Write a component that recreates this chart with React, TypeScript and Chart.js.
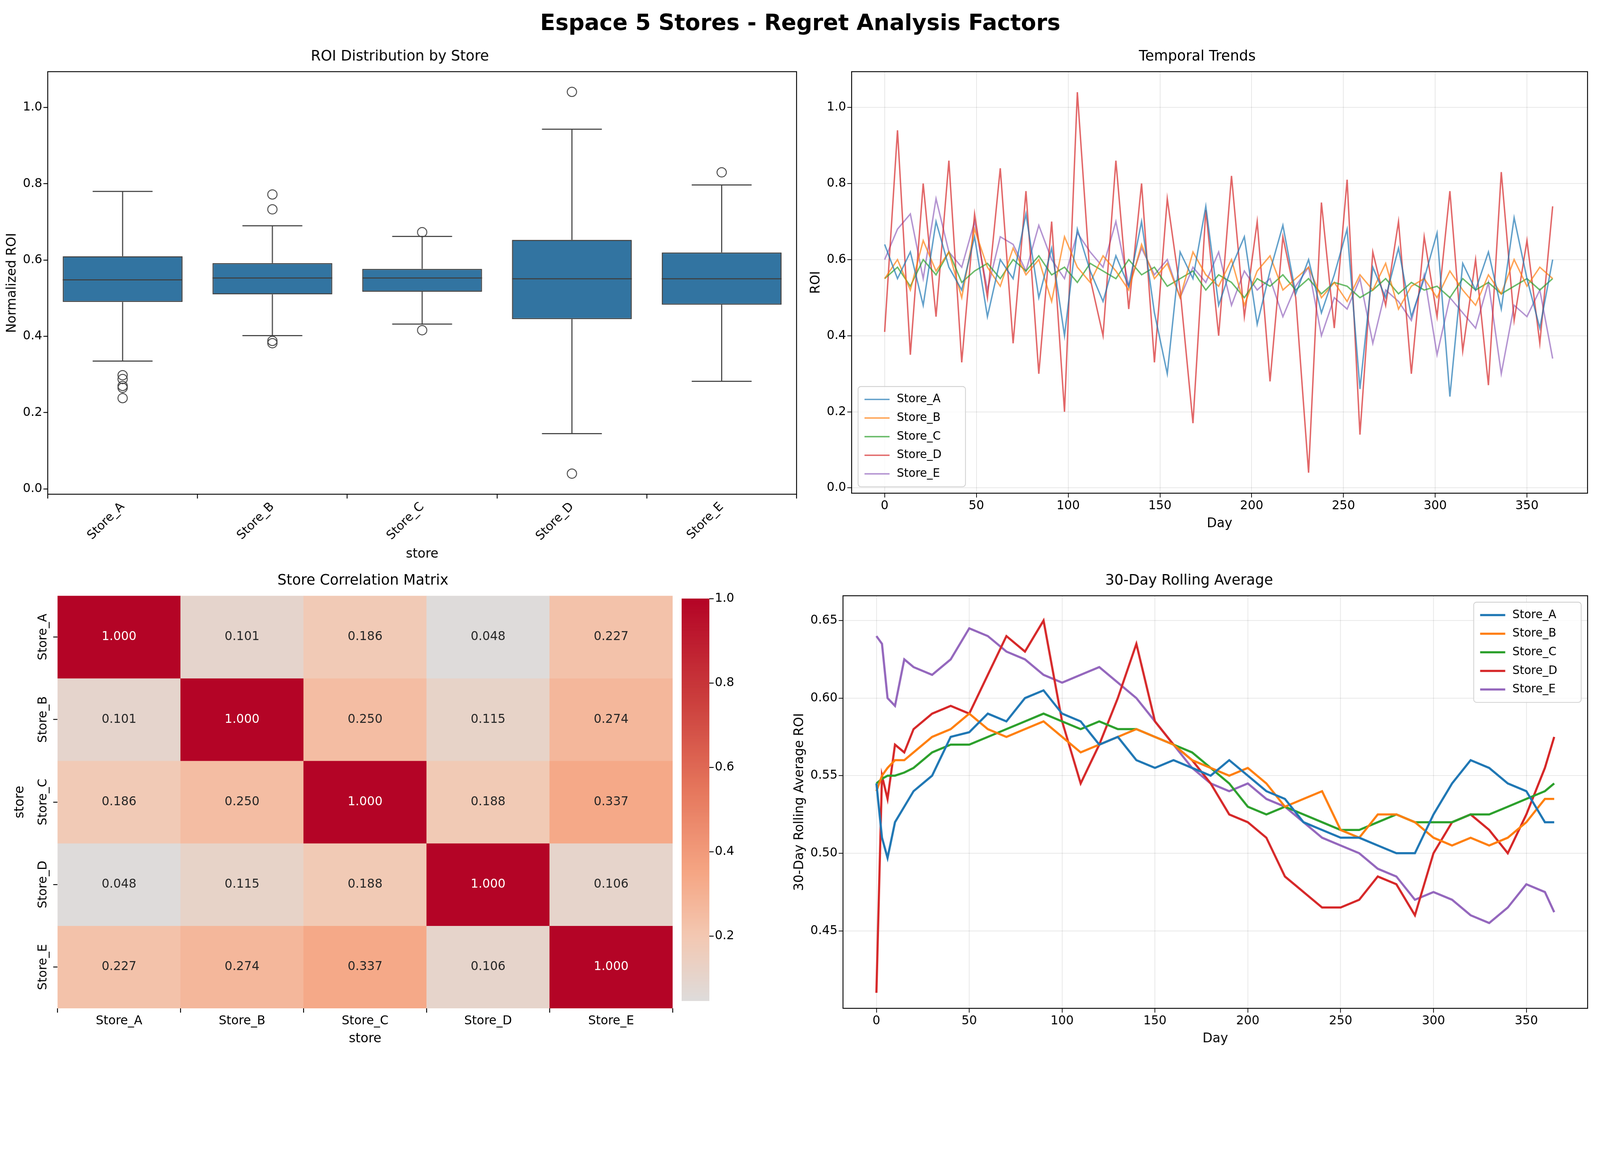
import React, { useEffect, useRef } from 'react';
import { Chart, registerables } from 'chart.js';

Chart.register(...registerables);

// the layout is measured at 4469 px wide; scale it to the real viewport
const K = (typeof window !== 'undefined' ? window.innerWidth : 4469) / 4469;
const S = (n: number) => n * K;

Chart.defaults.font.family = 'DejaVu Sans';
Chart.defaults.font.size = S(34);
Chart.defaults.color = '#000';

const stores = ['Store_A', 'Store_B', 'Store_C', 'Store_D', 'Store_E'];
const colors = ['#1f77b4', '#ff7f0e', '#2ca02c', '#d62728', '#9467bd'];
const colorsAlpha = ['rgba(31,119,180,0.7)', 'rgba(255,127,14,0.7)', 'rgba(44,160,44,0.7)', 'rgba(214,39,40,0.7)', 'rgba(148,103,189,0.7)'];

// box plot stats
const q1 = [0.49, 0.51, 0.517, 0.445, 0.483];
const medians = [0.548, 0.553, 0.553, 0.551, 0.551];
const q3 = [0.61, 0.592, 0.577, 0.653, 0.62];
const whiskLow = [0.335, 0.402, 0.432, 0.145, 0.282];
const whiskHigh = [0.78, 0.69, 0.662, 0.943, 0.797];
const outliers = [
  [0.298, 0.288, 0.27, 0.265, 0.238],
  [0.772, 0.733, 0.388, 0.382],
  [0.673, 0.416],
  [1.041, 0.04],
  [0.83],
];

// temporal (sampled every 7 days)
const tempDays = Array.from({ length: 53 }, (_, i) => i * 7);
const tempA = [.64,.55,.62,.48,.70,.58,.52,.66,.45,.60,.55,.72,.50,.63,.40,.68,.57,.49,.61,.53,.70,.46,.30,.62,.55,.74,.48,.58,.66,.43,.57,.69,.51,.60,.46,.56,.68,.26,.58,.50,.63,.45,.55,.67,.24,.59,.52,.62,.47,.71,.55,.42,.60];
const tempB = [.55,.60,.52,.65,.57,.62,.50,.68,.58,.53,.63,.56,.60,.49,.66,.58,.54,.61,.57,.52,.64,.55,.59,.50,.62,.56,.53,.60,.48,.57,.61,.52,.55,.58,.50,.54,.49,.56,.52,.59,.47,.53,.55,.50,.57,.52,.48,.56,.51,.60,.53,.58,.55];
const tempC = [.55,.58,.53,.60,.56,.62,.54,.57,.59,.55,.60,.57,.61,.56,.58,.54,.59,.57,.55,.60,.56,.58,.53,.55,.57,.52,.56,.54,.50,.55,.53,.56,.52,.55,.51,.54,.53,.50,.52,.55,.51,.54,.52,.53,.50,.55,.52,.54,.51,.53,.55,.52,.55];
const tempD = [.41,.94,.35,.80,.45,.86,.33,.72,.50,.84,.38,.78,.30,.70,.20,1.04,.55,.40,.86,.47,.80,.33,.76,.52,.17,.73,.40,.82,.45,.70,.28,.66,.50,.04,.75,.42,.81,.14,.62,.48,.70,.30,.66,.45,.78,.36,.60,.27,.83,.44,.65,.38,.74];
const tempE = [.60,.68,.72,.55,.76,.62,.58,.70,.52,.66,.64,.57,.69,.60,.55,.67,.62,.58,.70,.53,.63,.56,.60,.50,.58,.54,.62,.48,.57,.52,.55,.45,.53,.58,.40,.50,.47,.55,.38,.52,.49,.44,.56,.35,.50,.46,.42,.54,.30,.48,.45,.52,.34];

// rolling average
const rollDays = [0, 3, 6, 10, 15, 20, 30, 40, 50, 60, 70, 80, 90, 100, 110, 120, 130, 140, 150, 160, 170, 180, 190, 200, 210, 220, 230, 240, 250, 260, 270, 280, 290, 300, 310, 320, 330, 340, 350, 360, 365];
const rollA = [.545,.51,.497,.52,.53,.54,.55,.575,.578,.59,.585,.6,.605,.59,.585,.57,.575,.56,.555,.56,.555,.55,.56,.55,.54,.535,.52,.515,.51,.51,.505,.5,.5,.525,.545,.56,.555,.545,.54,.52,.52];
const rollB = [.54,.55,.555,.56,.56,.565,.575,.58,.59,.58,.575,.58,.585,.575,.565,.57,.575,.58,.575,.57,.56,.555,.55,.555,.545,.53,.535,.54,.515,.51,.525,.525,.52,.51,.505,.51,.505,.51,.52,.535,.535];
const rollC = [.545,.548,.55,.55,.552,.555,.565,.57,.57,.575,.58,.585,.59,.585,.58,.585,.58,.58,.575,.57,.565,.555,.545,.53,.525,.53,.525,.52,.515,.515,.52,.525,.52,.52,.52,.525,.525,.53,.535,.54,.545];
const rollD = [.41,.55,.535,.57,.565,.58,.59,.595,.59,.615,.64,.63,.65,.585,.545,.57,.6,.635,.585,.57,.56,.545,.525,.52,.51,.485,.475,.465,.465,.47,.485,.48,.46,.5,.52,.525,.515,.5,.525,.555,.575];
const rollE = [.64,.635,.6,.595,.625,.62,.615,.625,.645,.64,.63,.625,.615,.61,.615,.62,.61,.6,.585,.57,.555,.545,.54,.545,.535,.53,.52,.51,.505,.5,.49,.485,.47,.475,.47,.46,.455,.465,.48,.475,.462];

// correlation
const corr = [
  [1.0, 0.101, 0.186, 0.048, 0.227],
  [0.101, 1.0, 0.25, 0.115, 0.274],
  [0.186, 0.25, 1.0, 0.188, 0.337],
  [0.048, 0.115, 0.188, 1.0, 0.106],
  [0.227, 0.274, 0.337, 0.106, 1.0],
];
const cbarTicks = [0.2, 0.4, 0.6, 0.8, 1.0];

const cmapStops: [number, number[]][] = [
  [0.048, [222, 219, 218]], [0.2, [243, 200, 178]], [0.35, [245, 166, 132]],
  [0.55, [229, 118, 92]], [0.75, [204, 65, 62]], [1.0, [180, 4, 38]],
];
function cmap(v: number) {
  for (let i = 1; i < cmapStops.length; i++) {
    const [v1, c1] = cmapStops[i];
    const [v0, c0] = cmapStops[i - 1];
    if (v <= v1 || i === cmapStops.length - 1) {
      const t = Math.max(0, Math.min(1, (v - v0) / (v1 - v0)));
      const c = c0.map((a, k) => Math.round(a + (c1[k] - a) * t));
      return `rgb(${c[0]},${c[1]},${c[2]})`;
    }
  }
  return '#fff';
}

const framePlugin = {
  id: 'frame',
  afterDraw(chart: any) {
    const { ctx, chartArea: a } = chart;
    ctx.save();
    ctx.strokeStyle = '#000';
    ctx.lineWidth = S(2.5);
    ctx.strokeRect(a.left, a.top, a.right - a.left, a.bottom - a.top);
    ctx.restore();
  },
};

const legendPlugin = {
  id: 'cornerLegend',
  afterDraw(chart: any, _args: any, opts: any) {
    if (!opts || !opts.corner) return;
    const { ctx, chartArea: a } = chart;
    const rowH = S(52), w = S(300), h = rowH * chart.data.datasets.length + S(20);
    const x = opts.corner === 'bl' ? a.left + S(18) : a.right - w - S(18);
    const y = opts.corner === 'bl' ? a.bottom - h - S(18) : a.top + S(18);
    ctx.save();
    ctx.fillStyle = 'rgba(255,255,255,0.8)';
    ctx.strokeStyle = '#ccc';
    ctx.lineWidth = S(2);
    ctx.beginPath();
    ctx.roundRect(x, y, w, h, S(8));
    ctx.fill();
    ctx.stroke();
    ctx.font = `${S(32)}px DejaVu Sans`;
    ctx.textBaseline = 'middle';
    chart.data.datasets.forEach((ds: any, i: number) => {
      const cy = y + S(10) + rowH * i + rowH / 2;
      ctx.strokeStyle = ds.borderColor;
      ctx.lineWidth = ds.borderWidth;
      ctx.beginPath();
      ctx.moveTo(x + S(18), cy);
      ctx.lineTo(x + S(88), cy);
      ctx.stroke();
      ctx.fillStyle = '#000';
      ctx.fillText(ds.label, x + S(108), cy);
    });
    ctx.restore();
  },
};

const boxPlugin = {
  id: 'boxParts',
  afterDatasetsDraw(chart: any) {
    const meta = chart.getDatasetMeta(0);
    const y = chart.scales.y;
    const { ctx } = chart;
    ctx.save();
    ctx.strokeStyle = '#3f3f3f';
    ctx.lineWidth = S(3);
    meta.data.forEach((bar: any, i: number) => {
      const cx = bar.x, hw = bar.width / 2;
      const line = (x0: number, y0: number, x1: number, y1: number) => {
        ctx.beginPath(); ctx.moveTo(x0, y0); ctx.lineTo(x1, y1); ctx.stroke();
      };
      line(cx, y.getPixelForValue(q3[i]), cx, y.getPixelForValue(whiskHigh[i]));
      line(cx, y.getPixelForValue(q1[i]), cx, y.getPixelForValue(whiskLow[i]));
      line(cx - hw / 2, y.getPixelForValue(whiskHigh[i]), cx + hw / 2, y.getPixelForValue(whiskHigh[i]));
      line(cx - hw / 2, y.getPixelForValue(whiskLow[i]), cx + hw / 2, y.getPixelForValue(whiskLow[i]));
      line(cx - hw, y.getPixelForValue(medians[i]), cx + hw, y.getPixelForValue(medians[i]));
    });
    ctx.restore();
  },
};

const heatPlugin = {
  id: 'heatText',
  afterDatasetsDraw(chart: any) {
    const { ctx, scales, chartArea: a } = chart;
    ctx.save();
    ctx.font = `${S(34)}px DejaVu Sans`;
    ctx.textAlign = 'center';
    ctx.textBaseline = 'middle';
    corr.forEach((row, r) => row.forEach((v, c) => {
      ctx.fillStyle = v > 0.7 ? '#fff' : '#262626';
      ctx.fillText(v.toFixed(3), scales.x.getPixelForValue(c), scales.y.getPixelForValue(r));
    }));
    // rotated y tick labels and title
    stores.forEach((s, r) => {
      ctx.save();
      ctx.translate(a.left - S(40), scales.y.getPixelForValue(r));
      ctx.rotate(-Math.PI / 2);
      ctx.fillStyle = '#000';
      ctx.fillText(s, 0, 0);
      ctx.restore();
    });
    ctx.save();
    ctx.translate(a.left - S(105), (a.top + a.bottom) / 2);
    ctx.rotate(-Math.PI / 2);
    ctx.font = `${S(36)}px DejaVu Sans`;
    ctx.fillStyle = '#000';
    ctx.fillText('store', 0, 0);
    ctx.restore();
    ctx.restore();
  },
};

const cbarPlugin = {
  id: 'cbar',
  beforeDatasetsDraw(chart: any) {
    const { ctx, chartArea: a, scales } = chart;
    const y = scales.y;
    for (let p = a.top; p < a.bottom; p += 2) {
      ctx.fillStyle = cmap(y.getValueForPixel(p + 1));
      ctx.fillRect(a.left, p, a.right - a.left, 2.5);
    }
  },
};

const titleFont = { size: S(40), weight: 'normal' as const };
const axisTitleFont = { size: S(36) };

function ChartBox({ style, make }: { style: { left: number; top: number; width: number; height: number }; make: () => any }) {
  const ref = useRef<HTMLCanvasElement>(null);
  useEffect(() => {
    if (!ref.current) return;
    const chart = new Chart(ref.current, make());
    return () => chart.destroy();
  }, []);
  return (
    <div style={{ position: 'absolute', left: S(style.left), top: S(style.top), width: S(style.width), height: S(style.height) }}>
      <canvas ref={ref} />
    </div>
  );
}

const tickGrid = { display: true, drawOnChartArea: false, tickLength: S(12), color: '#000', lineWidth: S(2.5) };

function boxConfig() {
  return {
    type: 'bar',
    data: {
      labels: stores,
      datasets: [
        {
          data: stores.map((_, i) => [q1[i], q3[i]]),
          backgroundColor: '#3274a1',
          borderColor: '#3f3f3f',
          borderWidth: S(3),
          borderSkipped: false,
          barPercentage: 0.8,
          categoryPercentage: 1,
        },
        {
          type: 'scatter',
          data: outliers.flatMap((o, i) => o.map(v => ({ x: stores[i], y: v }))),
          backgroundColor: 'rgba(0,0,0,0)',
          borderColor: '#3f3f3f',
          borderWidth: S(2.5),
          pointRadius: S(13),
        },
      ],
    },
    options: {
      animation: false, responsive: true, maintainAspectRatio: false,
      layout: { padding: { right: S(20) } },
      plugins: { legend: { display: false }, tooltip: { enabled: false }, title: { display: true, text: 'ROI Distribution by Store', font: titleFont, padding: { bottom: S(18) } } },
      scales: {
        x: { grid: tickGrid, border: { display: false }, ticks: { minRotation: 45, maxRotation: 45 }, title: { display: true, text: 'store', font: axisTitleFont } },
        y: { min: -0.014, max: 1.094, grid: tickGrid, border: { display: false }, ticks: { callback: (v: number) => v.toFixed(1) }, afterBuildTicks: (s: any) => { s.ticks = [0, 0.2, 0.4, 0.6, 0.8, 1.0].map(v => ({ value: v })); }, title: { display: true, text: 'Normalized ROI', font: axisTitleFont } },
      },
    },
    plugins: [framePlugin, boxPlugin],
  };
}

function lineConfig(title: string, days: number[], series: number[][], cols: string[], width: number, yOpts: any, yTitle: string, corner: string) {
  const grid = { color: 'rgba(0,0,0,0.1)', lineWidth: S(2), tickLength: S(12), tickColor: '#000' };
  return {
    type: 'line',
    data: {
      datasets: series.map((s, i) => ({
        label: stores[i],
        data: s.map((v, k) => ({ x: days[k], y: v })),
        borderColor: cols[i],
        borderWidth: S(width),
        pointRadius: 0,
        fill: false,
      })),
    },
    options: {
      animation: false, responsive: true, maintainAspectRatio: false,
      layout: { padding: { right: S(20) } },
      plugins: { legend: { display: false }, tooltip: { enabled: false }, cornerLegend: { corner }, title: { display: true, text: title, font: titleFont, padding: { bottom: S(18) } } },
      scales: {
        x: { type: 'linear', min: -18, max: 383, afterBuildTicks: (s: any) => { s.ticks = [0, 50, 100, 150, 200, 250, 300, 350].map(v => ({ value: v })); }, grid, border: { display: false }, title: { display: true, text: 'Day', font: axisTitleFont } },
        y: { ...yOpts, grid, border: { display: false }, title: { display: true, text: yTitle, font: axisTitleFont } },
      },
    },
    plugins: [framePlugin, legendPlugin],
  };
}

function heatConfig() {
  return {
    type: 'bar',
    data: {
      labels: stores,
      datasets: corr.map((row, r) => ({
        data: row.map(() => [r - 0.5, r + 0.5]),
        backgroundColor: row.map(v => cmap(v)),
        borderWidth: 0,
        barPercentage: 1,
        categoryPercentage: 1,
        grouped: false,
      })),
    },
    options: {
      animation: false, responsive: true, maintainAspectRatio: false,
      layout: { padding: { left: S(140), right: S(10) } },
      plugins: { legend: { display: false }, tooltip: { enabled: false }, title: { display: true, text: 'Store Correlation Matrix', font: titleFont, padding: { bottom: S(18) } } },
      scales: {
        x: { grid: tickGrid, border: { display: false }, title: { display: true, text: 'store', font: axisTitleFont } },
        y: { type: 'linear', min: -0.5, max: 4.5, reverse: true, ticks: { display: false }, afterBuildTicks: (s: any) => { s.ticks = [0, 1, 2, 3, 4].map(v => ({ value: v })); }, grid: tickGrid, border: { display: false } },
      },
    },
    plugins: [heatPlugin],
  };
}

function cbarConfig() {
  return {
    type: 'bar',
    data: { labels: [''], datasets: [{ data: [null] }] },
    options: {
      animation: false, responsive: true, maintainAspectRatio: false,
      layout: { padding: { top: S(19), bottom: S(20), left: 0 } },
      plugins: { legend: { display: false }, tooltip: { enabled: false } },
      scales: {
        x: { display: false },
        y: { position: 'right', min: 0.048, max: 1.0, afterBuildTicks: (s: any) => { s.ticks = cbarTicks.map(v => ({ value: v })); }, ticks: { callback: (v: number) => v.toFixed(1) }, grid: tickGrid, border: { display: false } },
      },
    },
    plugins: [cbarPlugin],
  };
}

export default function App() {
  return (
    <div style={{ position: 'relative', width: S(4453), height: S(2939), background: '#fff', fontFamily: 'DejaVu Sans' }}>
      <div style={{ position: 'absolute', top: S(18), width: '100%', textAlign: 'center', fontSize: S(62), fontWeight: 'bold' }}>
        Espace 5 Stores - Regret Analysis Factors
      </div>
      <ChartBox style={{ left: 0, top: 125, width: 2235, height: 1440 }} make={boxConfig} />
      <ChartBox style={{ left: 2245, top: 125, width: 2200, height: 1355 }} make={() => lineConfig('Temporal Trends', tempDays, [tempA, tempB, tempC, tempD, tempE], colorsAlpha, 4, { min: -0.014, max: 1.094, afterBuildTicks: (s: any) => { s.ticks = [0, 0.2, 0.4, 0.6, 0.8, 1.0].map(v => ({ value: v })); }, ticks: { callback: (v: number) => v.toFixed(1) } }, 'ROI', 'bl')} />
      <ChartBox style={{ left: 0, top: 1590, width: 1880, height: 1330 }} make={heatConfig} />
      <ChartBox style={{ left: 1895, top: 1640, width: 150, height: 1170 }} make={cbarConfig} />
      <ChartBox style={{ left: 2200, top: 1590, width: 2245, height: 1330 }} make={() => lineConfig('30-Day Rolling Average', rollDays, [rollA, rollB, rollC, rollD, rollE], colors, 6, { min: 0.40, max: 0.666, afterBuildTicks: (s: any) => { s.ticks = [0.45, 0.5, 0.55, 0.6, 0.65].map(v => ({ value: v })); }, ticks: { callback: (v: number) => v.toFixed(2) } }, '30-Day Rolling Average ROI', 'tr')} />
    </div>
  );
}
